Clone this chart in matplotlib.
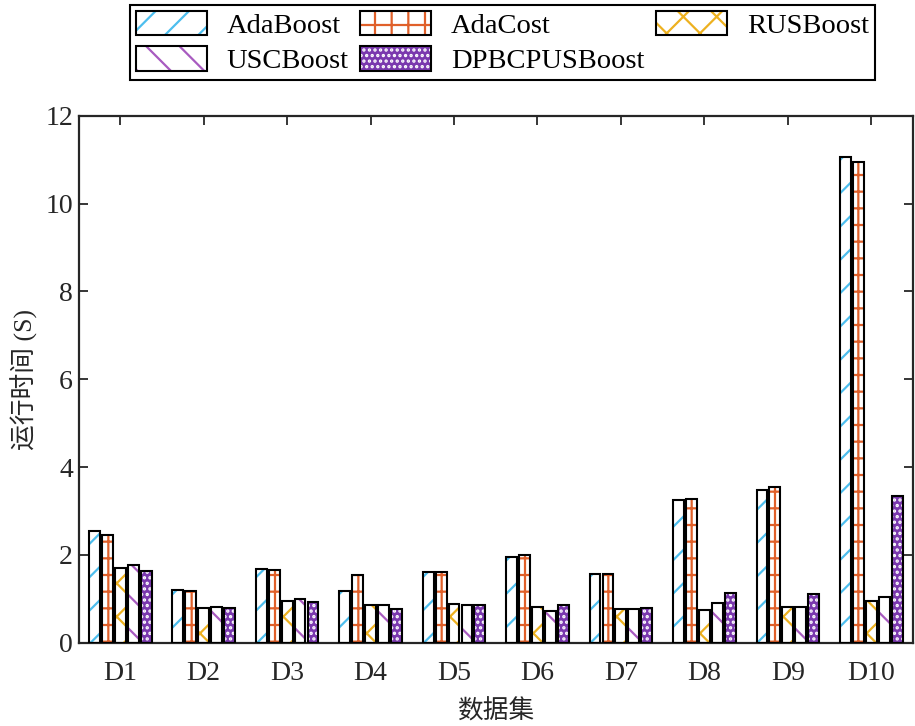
import numpy as np
import matplotlib
matplotlib.use('Agg')
import matplotlib.pyplot as plt
from matplotlib.patches import Patch

# 运行时间数据 (秒)
datasets = ['D1', 'D2', 'D3', 'D4', 'D5', 'D6', 'D7', 'D8', 'D9', 'D10']
methods = ['AdaBoost', 'AdaCost', 'RUSBoost', 'USCBoost', 'DPBCPUSBoost']
adaboost = [2.55, 1.21, 1.67, 1.17, 1.62, 1.95, 1.57, 3.25, 3.47, 11.07]
adacost = [2.45, 1.17, 1.65, 1.55, 1.62, 2.00, 1.57, 3.28, 3.55, 10.95]
rusboost = [1.71, 0.78, 0.96, 0.86, 0.88, 0.82, 0.77, 0.75, 0.82, 0.95]
uscboost = [1.76, 0.81, 1.00, 0.87, 0.86, 0.73, 0.77, 0.90, 0.81, 1.05]
dpbcpusboost = [1.63, 0.78, 0.93, 0.76, 0.86, 0.86, 0.80, 1.14, 1.11, 3.35]

series = [adaboost, adacost, rusboost, uscboost, dpbcpusboost]
hatch_colors = ['#4DBEEE', '#E0602A', '#EDB120', '#A85BC0', 'white']
face_colors = ['white', 'white', 'white', 'white', '#7A38AE']
hatches = ['/', '+', 'x', '\\', '...']

plt.rcParams['font.family'] = ['Liberation Serif', 'Noto Sans CJK SC']
plt.rcParams['hatch.linewidth'] = 1.6
plt.rcParams['axes.unicode_minus'] = False

fig = plt.figure(figsize=(9.15, 7.26), dpi=100)
ax = fig.add_axes([0.0858, 0.1147, 0.9120, 0.7259])

x = np.arange(1, len(datasets) + 1)
step = 0.155
width = 0.13
for k in range(len(series)):
    pos = x + (k - 2) * step
    # 先画填充图案，再画黑色外框
    ax.bar(pos, series[k], width, color=face_colors[k], edgecolor=hatch_colors[k],
           hatch=hatches[k], linewidth=0, zorder=2)
    ax.bar(pos, series[k], width, facecolor='none', edgecolor='black',
           linewidth=1.5, zorder=3)

ax.set_xlim(0.5, 10.5)
ax.set_ylim(0, 12)
ax.set_xticks(x)
ax.set_xticklabels(datasets)
ax.set_yticks(np.arange(0, 13, 2))
ax.tick_params(direction='in', length=6.5, width=1.3, colors='#262626',
               labelsize=20, top=True, right=True)
ax.tick_params(axis='x', pad=13)
ax.tick_params(axis='y', pad=4)
for s in ax.spines.values():
    s.set_linewidth(1.6)
    s.set_color('#262626')

ax.set_xlabel('数据集', fontsize=18.5, color='#262626', labelpad=10)
ax.set_ylabel('运行时间 (S)', fontsize=18.5, color='#262626', labelpad=5)

# 图例：hatch 图案与黑框叠加
handles = []
for k in range(len(series)):
    h1 = Patch(facecolor=face_colors[k], edgecolor=hatch_colors[k],
               hatch=hatches[k], linewidth=0)
    h2 = Patch(facecolor='none', edgecolor='black', linewidth=1.5)
    handles.append((h1, h2))
order = [0, 3, 1, 4, 2]
leg = fig.legend([handles[i] for i in order], [methods[i] for i in order],
                 ncol=3, loc='upper center', bbox_to_anchor=(0.549, 0.993),
                 fontsize=20.5, frameon=True, fancybox=False, edgecolor='black',
                 framealpha=1, handlelength=2.5, handleheight=0.95,
                 handletextpad=0.7, columnspacing=0.4, labelspacing=0.25,
                 borderpad=0.2, borderaxespad=0)
leg.get_frame().set_linewidth(1.5)

fig.savefig('out.png', dpi=100)
